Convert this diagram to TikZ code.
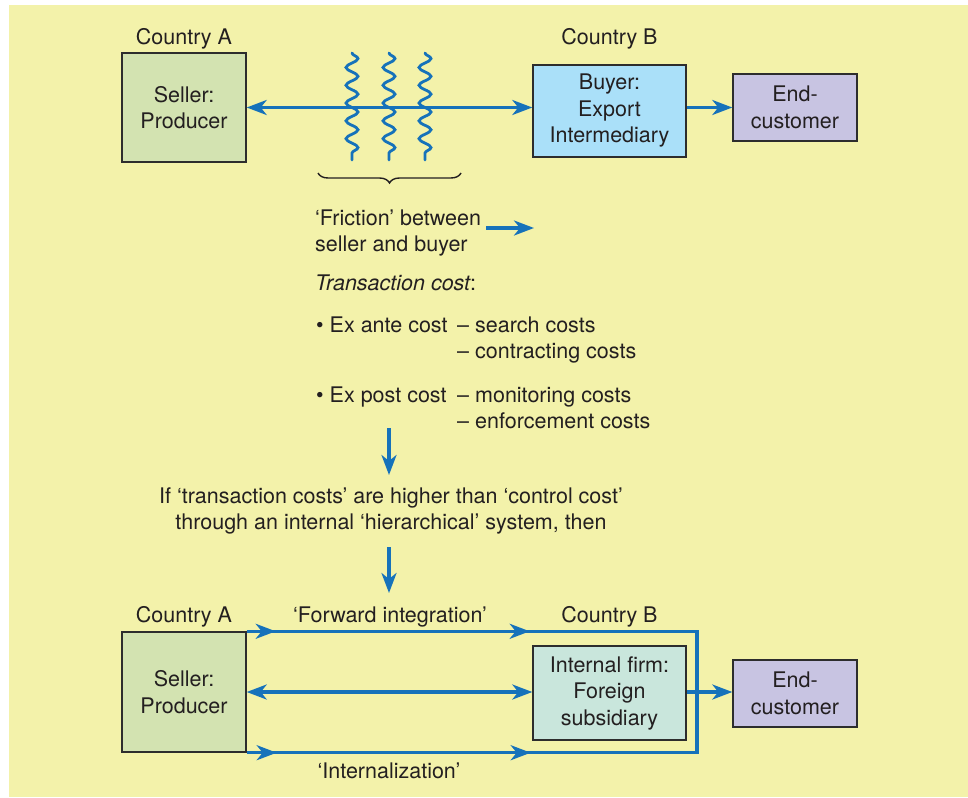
\documentclass[tikz,border=0pt]{standalone}
\usepackage{fontspec}
\setmainfont{TeX Gyre Heros}
\usetikzlibrary{arrows.meta,decorations.pathmorphing,decorations.pathreplacing,decorations.markings}

\definecolor{bg}{RGB}{243,242,170}
\definecolor{ink}{RGB}{35,31,32}
\definecolor{boxline}{RGB}{45,45,45}
\definecolor{flow}{RGB}{22,114,186}
\definecolor{sellerfill}{RGB}{211,227,177}
\definecolor{buyerfill}{RGB}{170,224,249}
\definecolor{endfill}{RGB}{200,196,226}
\definecolor{firmfill}{RGB}{201,230,220}

\newcommand\diagfont{\fontsize{21.5}{26.5}\selectfont}

\begin{document}
\begin{tikzpicture}[x=1pt,y=-1pt,
  flowtip/.tip={Stealth[length=20pt,width=15pt,inset=6pt]},
  box/.style={draw=boxline, line width=1.4pt, align=center, inner sep=0pt,
    font=\diagfont, text=ink},
  lbl/.style={inner sep=0pt, font=\diagfont, text=ink},
  flowline/.style={draw=flow, line width=3.2pt},
  arr/.style={flowline, -flowtip},
  darr/.style={flowline, flowtip-flowtip},
  wave/.style={draw=flow, line width=2.8pt, line cap=round, decorate,
    decoration={snake, amplitude=6pt, segment length=17.8pt}}
]
\useasboundingbox (0,0) rectangle (968,797);
\fill[bg] (9,5) rectangle (968,797);

% ---------- market exchange ----------
\node[lbl, anchor=base] (ctyA1) at (184,45) {Country A};
\node[lbl, anchor=base] (ctyB1) at (609.5,45) {Country B};

\node[box, fill=sellerfill, minimum width=124pt, minimum height=109pt]
  (sellerA) at (184,107.5) {Seller:\\Producer};
\node[box, fill=buyerfill, minimum width=153pt, minimum height=92pt]
  (buyer) at (609.5,111) {Buyer:\\Export\\Intermediary};
\node[box, fill=endfill, minimum width=124pt, minimum height=67pt]
  (endA) at (795,107.5) {End-\\customer};

\draw[darr] (sellerA.east) -- (sellerA.east -| buyer.west);
\draw[arr] (buyer.east |- endA.west) -- (endA.west);

% friction between the parties
\coordinate (w1a) at (352,53);  \coordinate (w1b) at (352,160);
\coordinate (w2a) at (389,53);  \coordinate (w2b) at (389,160);
\coordinate (w3a) at (425,53);  \coordinate (w3b) at (425,160);
\draw[wave] (w1a) -- (w1b);
\draw[wave] (w2a) -- (w2b);
\draw[wave] (w3a) -- (w3b);

\coordinate (br1) at (318,173);
\coordinate (br2) at (461,173);
\draw[ink, line width=1.4pt, decorate, decoration={brace, amplitude=10pt, mirror}]
  (br1) -- (br2);

\node[lbl, anchor=base west] (fric1) at (315,225) {‘Friction’ between};
\node[lbl, anchor=base west] (fric2) at (315,251) {seller and buyer};
\coordinate (fa) at (486,228);
\coordinate (fb) at (534,228);
\draw[arr] (fa) -- (fb);

\node[lbl, anchor=base west] (tc) at (315,290) {\itshape Transaction cost\upshape:};

\node[lbl, anchor=base west] (exante) at (316,332) {• Ex ante cost};
\node[lbl, anchor=base west] (search) at (457,332) {– search costs};
\node[lbl, anchor=base west] (contract) at (457,358) {– contracting costs};
\node[lbl, anchor=base west] (expost) at (316,402) {• Ex post cost};
\node[lbl, anchor=base west] (monitor) at (457,402) {– monitoring costs};
\node[lbl, anchor=base west] (enforce) at (457,428) {– enforcement costs};

% ---------- decision ----------
\coordinate (d1a) at (389,428);
\coordinate (d1b) at (389,475);
\draw[arr] (d1a) -- (d1b);

\node[lbl, anchor=base] (if1) at (391,503) {If ‘transaction costs’ are higher than ‘control cost’};
\node[lbl, anchor=base] (if2) at (391,529) {through an internal ‘hierarchical’ system, then};

\coordinate (d2a) at (389,547);
\coordinate (d2b) at (389,593);
\draw[arr] (d2a) -- (d2b);

% ---------- hierarchical solution ----------
\node[lbl, anchor=base] (ctyA2) at (184,622) {Country A};
\node[lbl, anchor=base] (fwd) at (390,622) {‘Forward integration’};
\node[lbl, anchor=base] (ctyB2) at (609.5,622) {Country B};
\node[lbl, anchor=base] (intl) at (389,778) {‘Internalization’};

\node[box, fill=sellerfill, minimum width=124pt, minimum height=120pt]
  (sellerB) at (184,692) {Seller:\\Producer};
\node[box, fill=firmfill, minimum width=153pt, minimum height=94pt]
  (firm) at (609.5,693) {Internal firm:\\Foreign\\subsidiary};
\node[box, fill=endfill, minimum width=124pt, minimum height=67pt]
  (endB) at (795,693.5) {End-\\customer};

\coordinate (vx) at (697,692);
\draw[flowline, postaction={decorate}, decoration={markings,
    mark=at position 29pt with {\arrow{flowtip}},
    mark=at position 283pt with {\arrow{flowtip}},
    mark=at position 738pt with {\arrowreversed{flowtip}},
    mark=at position 992pt with {\arrowreversed{flowtip}}}]
  (sellerB.north east) -| (vx) |- (sellerB.south east);

\draw[darr] (sellerB.east) -- (sellerB.east -| firm.west);
\draw[arr] (firm.east |- sellerB.east) -- (endB.west |- sellerB.east);
\end{tikzpicture}
\end{document}
